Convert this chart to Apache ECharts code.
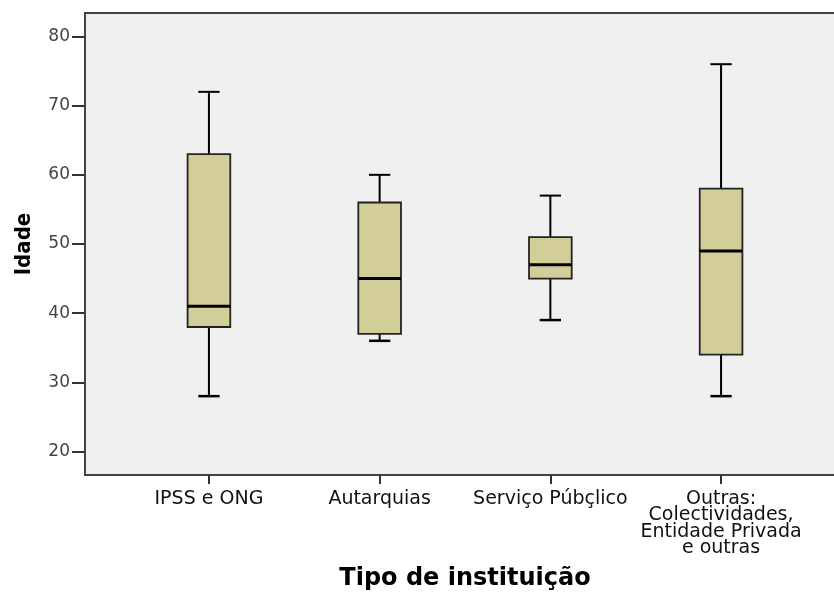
<!DOCTYPE html>
<html>
<head>
<meta charset="utf-8">
<script src="https://cdn.jsdelivr.net/npm/echarts@6/dist/echarts.min.js"></script>
<style>
  html, body { margin: 0; padding: 0; background: #ffffff; overflow: hidden; }
  #chart { width: 834px; height: 592px; }
</style>
</head>
<body>
<div id="chart"></div>
<script>
const categories = ['IPSS e ONG', 'Autarquias', 'Serviço Púbçlico', 'Outras:\nColectividades,\nEntidade Privada\ne outras'];
const minValues = [28, 36, 39, 28];
const q1Values = [38, 37, 45, 34];
const medianValues = [41, 45, 47, 49];
const q3Values = [63, 56, 51, 58];
const maxValues = [72, 60, 57, 76];
const yTicks = [20, 30, 40, 50, 60, 70, 80];
const xPositions = [0, 1, 2, 3];

const boxData = categories.map((c, i) => [xPositions[i], minValues[i], q1Values[i], medianValues[i], q3Values[i], maxValues[i]]);

const chart = echarts.init(document.getElementById('chart'));

function renderBox(params, api) {
  const x = api.value(0);
  const pMin = api.coord([x, api.value(1)]);
  const pQ1 = api.coord([x, api.value(2)]);
  const pMed = api.coord([x, api.value(3)]);
  const pQ3 = api.coord([x, api.value(4)]);
  const pMax = api.coord([x, api.value(5)]);
  const half = api.size([0.25, 0])[0] / 2;
  const capHalf = half / 2;
  const cx = pMed[0];
  const lineStyle = { stroke: '#000', lineWidth: 2 };
  return {
    type: 'group',
    children: [
      { type: 'line', shape: { x1: cx, y1: pMax[1], x2: cx, y2: pQ3[1] }, style: lineStyle },
      { type: 'line', shape: { x1: cx, y1: pQ1[1], x2: cx, y2: pMin[1] }, style: lineStyle },
      { type: 'line', shape: { x1: cx - capHalf, y1: pMax[1], x2: cx + capHalf, y2: pMax[1] }, style: lineStyle },
      { type: 'line', shape: { x1: cx - capHalf, y1: pMin[1], x2: cx + capHalf, y2: pMin[1] }, style: { stroke: '#000', lineWidth: 2.5 } },
      { type: 'rect', shape: { x: cx - half, y: pQ3[1], width: half * 2, height: pQ1[1] - pQ3[1] },
        style: { fill: '#d3cd97', stroke: '#222', lineWidth: 1.8 } },
      { type: 'line', shape: { x1: cx - half, y1: pMed[1], x2: cx + half, y2: pMed[1] }, style: { stroke: '#000', lineWidth: 3 } }
    ]
  };
}

const option = {
  animation: false,
  backgroundColor: '#ffffff',
  grid: {
    left: 85, top: 13, width: 760, height: 462,
    outerBoundsMode: 'none',
    containLabel: false,
    show: true, backgroundColor: '#f0f0f0', borderWidth: 0
  },
  xAxis: [{
    type: 'value',
    min: -0.726, max: 3.726,
    position: 'bottom',
    splitLine: { show: false },
    axisLine: { show: true, onZero: false, lineStyle: { color: '#444', width: 2 } },
    axisTick: { show: true, customValues: xPositions, length: 9, inside: false, lineStyle: { color: '#333', width: 2 } },
    axisLabel: {
      customValues: xPositions,
      formatter: (v) => categories[Math.round(v)],
      margin: 16,
      fontFamily: 'DejaVu Sans',
      fontSize: 19,
      lineHeight: 16.3,
      color: '#111',
      align: 'center'
    },
    name: 'Tipo de instituição',
    nameLocation: 'middle',
    nameGap: 92,
    nameTextStyle: { fontFamily: 'DejaVu Sans', fontWeight: 'bold', fontSize: 24, color: '#000' }
  }, {
    type: 'value',
    min: -0.726, max: 3.726,
    position: 'top',
    splitLine: { show: false },
    axisLine: { show: true, onZero: false, lineStyle: { color: '#444', width: 2 } },
    axisTick: { show: false },
    axisLabel: { show: false }
  }],
  yAxis: {
    type: 'value',
    min: 16.6, max: 83.4,
    splitLine: { show: false },
    axisLine: { show: true, onZero: false, lineStyle: { color: '#444', width: 2 } },
    axisTick: { show: true, customValues: yTicks, length: 13, lineStyle: { color: '#333', width: 2 } },
    axisLabel: {
      customValues: yTicks,
      margin: 15,
      fontFamily: 'DejaVu Sans',
      fontSize: 17,
      color: '#444'
    },
    name: 'Idade',
    nameLocation: 'middle',
    nameGap: 50,
    nameTextStyle: { fontFamily: "'DejaVu Sans Condensed', sans-serif", fontWeight: 'bold', fontSize: 22, color: '#000' }
  },
  series: [{
    type: 'custom',
    xAxisIndex: 0,
    renderItem: renderBox,
    encode: { x: 0, y: [1, 2, 3, 4, 5] },
    data: boxData,
    clip: false
  }]
};

chart.setOption(option);
</script>
</body>
</html>
